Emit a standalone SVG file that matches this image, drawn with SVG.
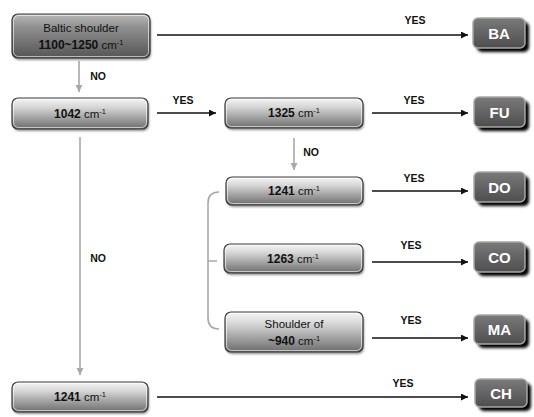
<svg xmlns="http://www.w3.org/2000/svg" width="534" height="417" viewBox="0 0 534 417">
<defs>
<linearGradient id="gLight" x1="0" y1="0" x2="0" y2="1">
<stop offset="0" stop-color="#f6f6f6"/>
<stop offset="0.3" stop-color="#d6d6d6"/>
<stop offset="1" stop-color="#6c6c6c"/>
</linearGradient>
<linearGradient id="gDark" x1="0" y1="0" x2="0" y2="1">
<stop offset="0" stop-color="#b8b8b8"/>
<stop offset="0.3" stop-color="#909090"/>
<stop offset="1" stop-color="#555555"/>
</linearGradient>
<linearGradient id="gRes" x1="0" y1="0" x2="0" y2="1">
<stop offset="0" stop-color="#7a7a7a"/>
<stop offset="1" stop-color="#4e4e4e"/>
</linearGradient>
<filter id="sh" x="-30%" y="-30%" width="170%" height="180%">
<feGaussianBlur stdDeviation="1.8"/>
</filter>
<filter id="dsh" x="-10%" y="-20%" width="120%" height="150%">
<feGaussianBlur stdDeviation="1"/>
</filter>
<marker id="ab" viewBox="0 0 10 10" refX="10" refY="5" markerWidth="9" markerHeight="7" markerUnits="userSpaceOnUse" orient="auto">
<path d="M0,0 L10,5 L0,10 Z" fill="#111"/>
</marker>
<marker id="ag" viewBox="0 0 10 10" refX="10" refY="5" markerWidth="7" markerHeight="9" markerUnits="userSpaceOnUse" orient="auto">
<path d="M0,0 L10,5 L0,10 Z" fill="#a8a8a8"/>
</marker>
</defs>
<style>
.box{fill:url(#gLight);stroke:#3a3a3a;stroke-width:1.2}
.boxd{fill:url(#gDark);stroke:#3a3a3a;stroke-width:1.2}
.hl{fill:none;stroke:#ffffff;stroke-opacity:0.6;stroke-width:1}
.bsh{fill:#222;opacity:0.5}
.res{fill:url(#gRes);stroke:#a8a8a8;stroke-width:1.5}
.rsh{fill:#000}
.t{font-family:"Liberation Sans",Arial,sans-serif;font-size:11.5px;fill:#111;text-anchor:middle}
.b{font-weight:bold;font-size:12px}
.sup{font-size:7.5px}
.rt{font-family:"Liberation Sans",Arial,sans-serif;font-size:15px;font-weight:bold;fill:#fff;text-anchor:middle}
.lb{font-family:"Liberation Sans",Arial,sans-serif;font-size:10.5px;font-weight:bold;fill:#111;text-anchor:middle}
.ca{stroke:#111;stroke-width:1.4;fill:none}
.cg{stroke:#a8a8a8;stroke-width:1.6;fill:none}
</style>

<g id="connectors">
<line class="ca" x1="157" y1="35" x2="468" y2="35" marker-end="url(#ab)"/>
<line class="ca" x1="157" y1="113" x2="216" y2="113" marker-end="url(#ab)"/>
<line class="ca" x1="372" y1="113" x2="468" y2="113" marker-end="url(#ab)"/>
<line class="ca" x1="372" y1="191" x2="468" y2="191" marker-end="url(#ab)"/>
<line class="ca" x1="372" y1="262" x2="468" y2="262" marker-end="url(#ab)"/>
<line class="ca" x1="372" y1="338" x2="468" y2="338" marker-end="url(#ab)"/>
<line class="ca" x1="157" y1="397" x2="468" y2="397" marker-end="url(#ab)"/>
<line class="cg" x1="79" y1="61" x2="79" y2="92" marker-end="url(#ag)"/>
<line class="cg" x1="294" y1="138" x2="294" y2="170" marker-end="url(#ag)"/>
<line class="cg" x1="80" y1="137" x2="80" y2="375" marker-end="url(#ag)"/>
<path class="cg" d="M219,192 Q208,192 208,203 L208,318 Q208,329 219,329 M208,261 H217"/>
<text class="lb" x="415" y="24">YES</text>
<text class="lb" x="183" y="104">YES</text>
<text class="lb" x="414" y="104">YES</text>
<text class="lb" x="414" y="182">YES</text>
<text class="lb" x="411" y="249">YES</text>
<text class="lb" x="411" y="324">YES</text>
<text class="lb" x="403" y="387">YES</text>
<text class="lb" x="98" y="80">NO</text>
<text class="lb" x="311" y="156">NO</text>
<text class="lb" x="98" y="262">NO</text>
</g>

<g id="n-baltic">
<rect class="bsh" x="13" y="16" width="138" height="44" rx="6" filter="url(#dsh)"/>
<rect class="boxd" x="12" y="14" width="138" height="44" rx="6"/>
<rect class="hl" x="13.5" y="15.5" width="135" height="41" rx="5"/>
<text class="t" x="81" y="32">Baltic shoulder</text>
<text class="t" x="81" y="49"><tspan class="b">1100~1250</tspan> cm<tspan class="sup" dy="-4">-1</tspan></text>
</g>

<g id="n-1042">
<rect class="bsh" x="13" y="100" width="136" height="31" rx="6" filter="url(#dsh)"/>
<rect class="box" x="12" y="98" width="136" height="31" rx="6"/>
<rect class="hl" x="13.5" y="99.5" width="133" height="28" rx="5"/>
<text class="t" x="80" y="118"><tspan class="b">1042</tspan> cm<tspan class="sup" dy="-4">-1</tspan></text>
</g>

<g id="n-1325">
<rect class="bsh" x="226" y="100" width="138" height="30" rx="6" filter="url(#dsh)"/>
<rect class="box" x="225" y="98" width="138" height="30" rx="6"/>
<rect class="hl" x="226.5" y="99.5" width="135" height="27" rx="5"/>
<text class="t" x="294" y="117"><tspan class="b">1325</tspan> cm<tspan class="sup" dy="-4">-1</tspan></text>
</g>

<g id="n-1241a">
<rect class="bsh" x="227" y="179" width="137" height="28" rx="6" filter="url(#dsh)"/>
<rect class="box" x="226" y="177" width="137" height="28" rx="6"/>
<rect class="hl" x="227.5" y="178.5" width="134" height="25" rx="5"/>
<text class="t" x="294" y="195"><tspan class="b">1241</tspan> cm<tspan class="sup" dy="-4">-1</tspan></text>
</g>

<g id="n-1263">
<rect class="bsh" x="225" y="246" width="139" height="29" rx="6" filter="url(#dsh)"/>
<rect class="box" x="224" y="244" width="139" height="29" rx="6"/>
<rect class="hl" x="225.5" y="245.5" width="136" height="26" rx="5"/>
<text class="t" x="293" y="263"><tspan class="b">1263</tspan> cm<tspan class="sup" dy="-4">-1</tspan></text>
</g>

<g id="n-940">
<rect class="bsh" x="226" y="314" width="138" height="40" rx="6" filter="url(#dsh)"/>
<rect class="box" x="225" y="312" width="138" height="40" rx="6"/>
<rect class="hl" x="226.5" y="313.5" width="135" height="37" rx="5"/>
<text class="t" x="294" y="328">Shoulder of</text>
<text class="t" x="294" y="345"><tspan class="b">~940</tspan> cm<tspan class="sup" dy="-4">-1</tspan></text>
</g>

<g id="n-1241b">
<rect class="bsh" x="13" y="384" width="136" height="30" rx="6" filter="url(#dsh)"/>
<rect class="box" x="12" y="382" width="136" height="30" rx="6"/>
<rect class="hl" x="13.5" y="383.5" width="133" height="27" rx="5"/>
<text class="t" x="80" y="401"><tspan class="b">1241</tspan> cm<tspan class="sup" dy="-4">-1</tspan></text>
</g>

<g id="r-BA">
<rect class="rsh" x="477" y="22" width="52" height="30" rx="5" filter="url(#sh)"/>
<rect class="res" x="473" y="18" width="52" height="30" rx="5"/>
<text class="rt" x="499" y="38.5">BA</text>
</g>
<g id="r-FU">
<rect class="rsh" x="478" y="101" width="51" height="30" rx="5" filter="url(#sh)"/>
<rect class="res" x="474" y="97" width="51" height="30" rx="5"/>
<text class="rt" x="499.5" y="117.5">FU</text>
</g>
<g id="r-DO">
<rect class="rsh" x="478" y="176" width="51" height="30" rx="5" filter="url(#sh)"/>
<rect class="res" x="474" y="172" width="51" height="30" rx="5"/>
<text class="rt" x="499.5" y="192.5">DO</text>
</g>
<g id="r-CO">
<rect class="rsh" x="478" y="246" width="51" height="30" rx="5" filter="url(#sh)"/>
<rect class="res" x="474" y="242" width="51" height="30" rx="5"/>
<text class="rt" x="499.5" y="262.5">CO</text>
</g>
<g id="r-MA">
<rect class="rsh" x="478" y="319" width="51" height="29" rx="5" filter="url(#sh)"/>
<rect class="res" x="474" y="315" width="51" height="29" rx="5"/>
<text class="rt" x="499.5" y="335">MA</text>
</g>
<g id="r-CH">
<rect class="rsh" x="479" y="383" width="52" height="28" rx="5" filter="url(#sh)"/>
<rect class="res" x="475" y="379" width="52" height="28" rx="5"/>
<text class="rt" x="501" y="398.5">CH</text>
</g>
</svg>
